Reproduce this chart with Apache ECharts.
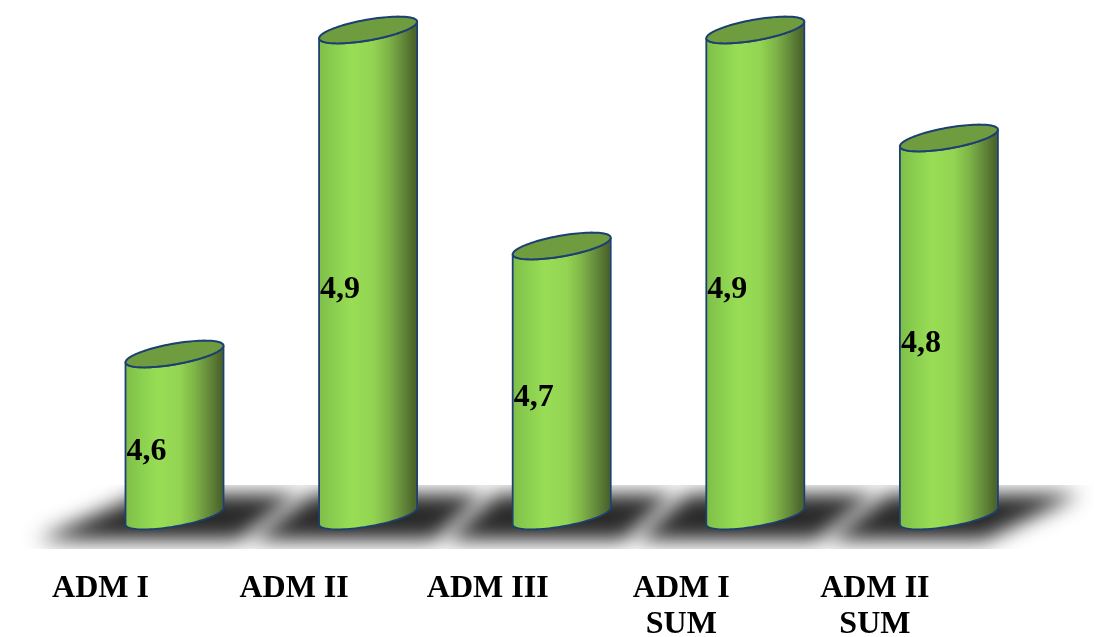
<!DOCTYPE html>
<html>
<head>
<meta charset="utf-8">
<style>html,body{margin:0;padding:0;background:#fff}#c{width:1094px;height:637px}</style>
<script src="https://cdn.jsdelivr.net/npm/echarts@6/dist/echarts.min.js"></script>
</head>
<body>
<div id="c"></div>
<script>
const categories = ['ADM I', 'ADM II', 'ADM III', 'ADM I\nSUM', 'ADM II\nSUM'];
const values = [4.6, 4.9, 4.7, 4.9, 4.8];
const axisMin = 4.45;
const axisMax = 4.9;

// Floor strip outline, pixel offsets from each column centre: [bottomLeft, bottomRight, topRight, topLeft]
const floorOffsets = [
  [-166, 60, 144, -19],
  [-137, 64, 134, -51],
  [-134, 60, 130, -62],
  [-137, 57, 140, -65],
  [-141, 25, 158, -56]
];

const halfW = 49;
const shear = 8.3;
const minorR = 10.5;

function arcPoints(cx, cy, from, to, n) {
  const pts = [];
  for (let k = 0; k <= n; k++) {
    const t = from + (to - from) * k / n;
    pts.push([cx + halfW * Math.cos(t), cy - shear * Math.cos(t) + minorR * Math.sin(t)]);
  }
  return pts;
}

function renderColumn(params, api) {
  const v = api.value(1);
  const top = api.coord([api.value(0), v]);
  const base = api.coord([api.value(0), axisMin]);
  const cx = top[0], ty = top[1], by = base[1];
  const body = arcPoints(cx, by, Math.PI, 0, 48).concat(arcPoints(cx, ty, 0, Math.PI, 48));
  const rim = arcPoints(cx, ty, 0, Math.PI * 2, 96);
  const stroke = '#1d3f72';
  const shade = new echarts.graphic.LinearGradient(0, 0, 1, 0, [
    { offset: 0, color: '#7fbd49' },
    { offset: 0.15, color: '#89ce4e' },
    { offset: 0.33, color: '#99dd56' },
    { offset: 0.55, color: '#93d452' },
    { offset: 0.7, color: '#7fb548' },
    { offset: 0.85, color: '#63883a' },
    { offset: 0.97, color: '#4b632a' },
    { offset: 1, color: '#55712f' }
  ]);
  return {
    type: 'group',
    children: [
      { type: 'polygon', shape: { points: body }, style: { fill: shade, stroke: stroke, lineWidth: 1.8 } },
      { type: 'polygon', shape: { points: rim }, style: { fill: '#6f9c3e', stroke: stroke, lineWidth: 2 } },
      {
        type: 'text',
        style: {
          text: v.toFixed(1).replace('.', ','),
          x: cx - halfW + 1,
          y: (ty + by) / 2 + 17,
          textAlign: 'left',
          textVerticalAlign: 'middle',
          font: 'bold 32px "Liberation Serif"',
          fill: '#000'
        }
      }
    ]
  };
}

function renderFloor(params, api) {
  const i = api.value(0);
  const c = api.coord([i, axisMin]);
  const o = floorOffsets[i];
  const yTop = 485, yBot = 549, inset = 9, side = 8, away = 4000;
  const skewL = (o[3] - o[0]) / (yBot - yTop);
  const skewR = (o[2] - o[1]) / (yBot - yTop);
  const iTop = yTop + inset, iBot = yBot - inset;
  // The shape itself sits off canvas; only its blurred shadow lands on the floor.
  const pts = [
    [c[0] + o[0] + skewL * inset + side - away, iBot],
    [c[0] + o[1] + skewR * inset - side - away, iBot],
    [c[0] + o[2] - skewR * inset - side - away, iTop],
    [c[0] + o[3] - skewL * inset + side - away, iTop]
  ];
  return {
    type: 'group',
    clipPath: { type: 'rect', shape: { x: 0, y: yTop, width: 1094, height: yBot - yTop } },
    children: [{
      type: 'polygon',
      shape: { points: pts },
      style: { fill: '#222222', shadowBlur: 20, shadowColor: '#2a2a2a', shadowOffsetX: away }
    }]
  };
}

const seriesData = values.map((v, i) => [i, v]);
const chart = echarts.init(document.getElementById('c'), null, { renderer: 'canvas' });
chart.setOption({
  animation: false,
  backgroundColor: '#fff',
  grid: [
    { left: 77.7, width: 968, top: 30, bottom: 121, outerBoundsMode: 'none' },
    { left: 3.7, width: 968, top: 30, bottom: 121, outerBoundsMode: 'none' }
  ],
  xAxis: [
    { type: 'category', gridIndex: 0, data: categories, axisLine: { show: false }, axisTick: { show: false }, axisLabel: { show: false } },
    {
      type: 'category', gridIndex: 1, data: categories,
      axisLine: { show: false }, axisTick: { show: false },
      axisLabel: {
        interval: 0, margin: 55, color: '#000', fontSize: 32, fontWeight: 'bold',
        fontFamily: 'Liberation Serif', lineHeight: 36, align: 'center', verticalAlign: 'top'
      }
    }
  ],
  yAxis: [
    { type: 'value', gridIndex: 0, min: axisMin, max: axisMax, show: false },
    { type: 'value', gridIndex: 1, min: axisMin, max: axisMax, show: false }
  ],
  series: [
    { type: 'custom', name: 'floor', z: 1, xAxisIndex: 0, yAxisIndex: 0, renderItem: renderFloor, data: seriesData, silent: true },
    { type: 'custom', name: 'columns', z: 3, xAxisIndex: 0, yAxisIndex: 0, renderItem: renderColumn, data: seriesData, encode: { x: 0, y: 1 } }
  ]
});
</script>
</body>
</html>
